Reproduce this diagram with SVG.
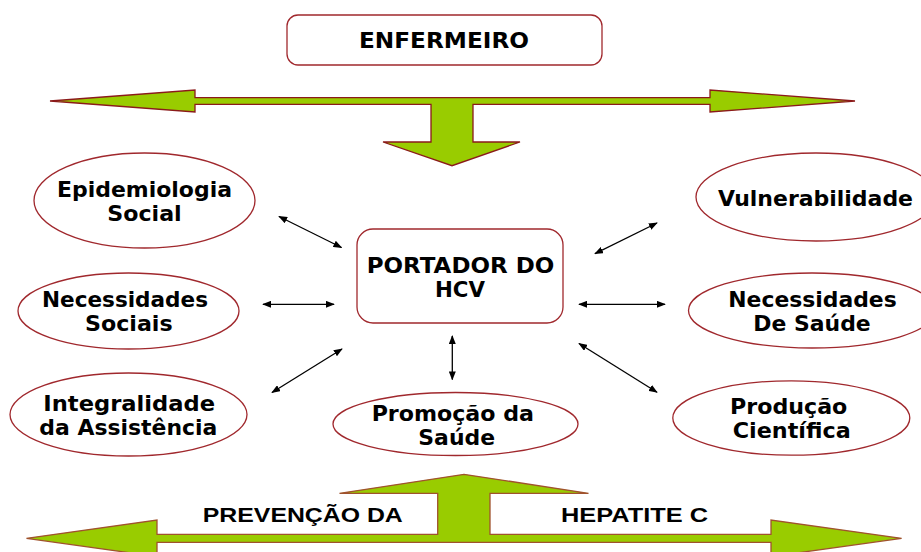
<svg xmlns="http://www.w3.org/2000/svg" width="921" height="552" viewBox="0 0 921 552">
<defs>
<style>
.node{fill:#fff;stroke:#a0282d;stroke-width:1.3}
.lbl{font-family:"DejaVu Sans","Verdana",sans-serif;font-weight:bold;font-size:21.5px;fill:#000;text-anchor:middle}
.blbl{font-family:"Liberation Sans",Arial,sans-serif;font-weight:bold;font-size:20.5px;fill:#000;text-anchor:middle}
.con{stroke:#000;stroke-width:1.3;fill:none;marker-start:url(#ah);marker-end:url(#ah)}
.big{fill:#99cc00;stroke-width:1.3;stroke-linejoin:miter}
</style>
<marker id="ah" viewBox="0 0 10 10" refX="9" refY="5" markerWidth="9" markerHeight="7" markerUnits="userSpaceOnUse" orient="auto-start-reverse" preserveAspectRatio="none">
<path d="M0,0 L10,5 L0,10 z" fill="#000"/>
</marker>
</defs>

<g id="top-arrow">
<polygon class="big" stroke="#8b1a1a" points="50,101 195,90 195,97.7 710,97.7 710,90 855,101 710,112 710,104.3 473,104.3 473,142 520,142 452,165.7 383,142 431,142 431,104.3 195,104.3 195,112"/>
</g>
<g id="bottom-arrow">
<polygon class="big" stroke="#a0522d" points="26.5,538.3 157,520 157,534.3 437.7,534.3 437.7,493.3 339.5,493.3 464,474.3 588.5,493.3 490,493.3 490,534.3 771,534.3 771,520 901.6,538.3 771,556.6 771,542.3 157,542.3 157,556.6"/>
<text class="blbl" x="302.8" y="521.5" textLength="200" lengthAdjust="spacingAndGlyphs">PREVENÇÃO DA</text>
<text class="blbl" x="634.5" y="521.5" textLength="147" lengthAdjust="spacingAndGlyphs">HEPATITE C</text>
</g>

<g id="enfermeiro">
<rect class="node" x="287" y="15" width="315" height="50" rx="11"/>
<text class="lbl" x="444" y="48.3" font-size="20.5" textLength="170" lengthAdjust="spacingAndGlyphs">ENFERMEIRO</text>
</g>

<g id="portador">
<rect class="node" x="357" y="229" width="206" height="94" rx="16"/>
<text class="lbl" x="460.5" y="272.7" textLength="187.6" lengthAdjust="spacingAndGlyphs">PORTADOR DO</text>
<text class="lbl" x="460" y="296.7" textLength="50" lengthAdjust="spacingAndGlyphs">HCV</text>
</g>

<g id="epidemiologia">
<ellipse class="node" cx="144.5" cy="200.5" rx="110.5" ry="47.5"/>
<text class="lbl" x="144.5" y="197" textLength="175" lengthAdjust="spacingAndGlyphs">Epidemiologia</text>
<text class="lbl" x="144.5" y="221" textLength="74.4" lengthAdjust="spacingAndGlyphs">Social</text>
</g>

<g id="necessidades-sociais">
<ellipse class="node" cx="128.5" cy="311" rx="110.5" ry="38"/>
<text class="lbl" x="125" y="306.7" textLength="166" lengthAdjust="spacingAndGlyphs">Necessidades</text>
<text class="lbl" x="128.8" y="330.7" textLength="87.7" lengthAdjust="spacingAndGlyphs">Sociais</text>
</g>

<g id="integralidade">
<ellipse class="node" cx="128.5" cy="414.5" rx="118.5" ry="41.5"/>
<text class="lbl" x="129.2" y="410.7" textLength="171.7" lengthAdjust="spacingAndGlyphs">Integralidade</text>
<text class="lbl" x="128.3" y="435" textLength="178" lengthAdjust="spacingAndGlyphs">da Assistência</text>
</g>

<g id="promocao">
<ellipse class="node" cx="455.5" cy="424" rx="122.5" ry="31.5"/>
<text class="lbl" x="452.8" y="421" textLength="162.3" lengthAdjust="spacingAndGlyphs">Promoção da</text>
<text class="lbl" x="456.7" y="445" textLength="76.7" lengthAdjust="spacingAndGlyphs">Saúde</text>
</g>

<g id="vulnerabilidade">
<ellipse class="node" cx="816" cy="197" rx="120" ry="44"/>
<text class="lbl" x="815.5" y="205.7" textLength="195" lengthAdjust="spacingAndGlyphs">Vulnerabilidade</text>
</g>

<g id="necessidades-saude">
<ellipse class="node" cx="812" cy="310.5" rx="123.5" ry="37.5"/>
<text class="lbl" x="812.5" y="306.7" textLength="168.4" lengthAdjust="spacingAndGlyphs">Necessidades</text>
<text class="lbl" x="812" y="330.7" textLength="117.4" lengthAdjust="spacingAndGlyphs">De Saúde</text>
</g>

<g id="producao">
<ellipse class="node" cx="791.3" cy="418" rx="118.5" ry="37.2"/>
<text class="lbl" x="788.7" y="414" textLength="117.3" lengthAdjust="spacingAndGlyphs">Produção</text>
<text class="lbl" x="791.7" y="438" textLength="118" lengthAdjust="spacingAndGlyphs">Científica</text>
</g>

<g id="connectors">
<line class="con" x1="279" y1="216.5" x2="341.5" y2="247.5"/>
<line class="con" x1="263" y1="304.3" x2="334" y2="304.3"/>
<line class="con" x1="272" y1="392.5" x2="342" y2="349"/>
<line class="con" x1="452.3" y1="336" x2="452.3" y2="379.5"/>
<line class="con" x1="595" y1="253.7" x2="657" y2="223"/>
<line class="con" x1="579" y1="304.3" x2="665" y2="304.3"/>
<line class="con" x1="579" y1="343.5" x2="657" y2="392.3"/>
</g>
</svg>
